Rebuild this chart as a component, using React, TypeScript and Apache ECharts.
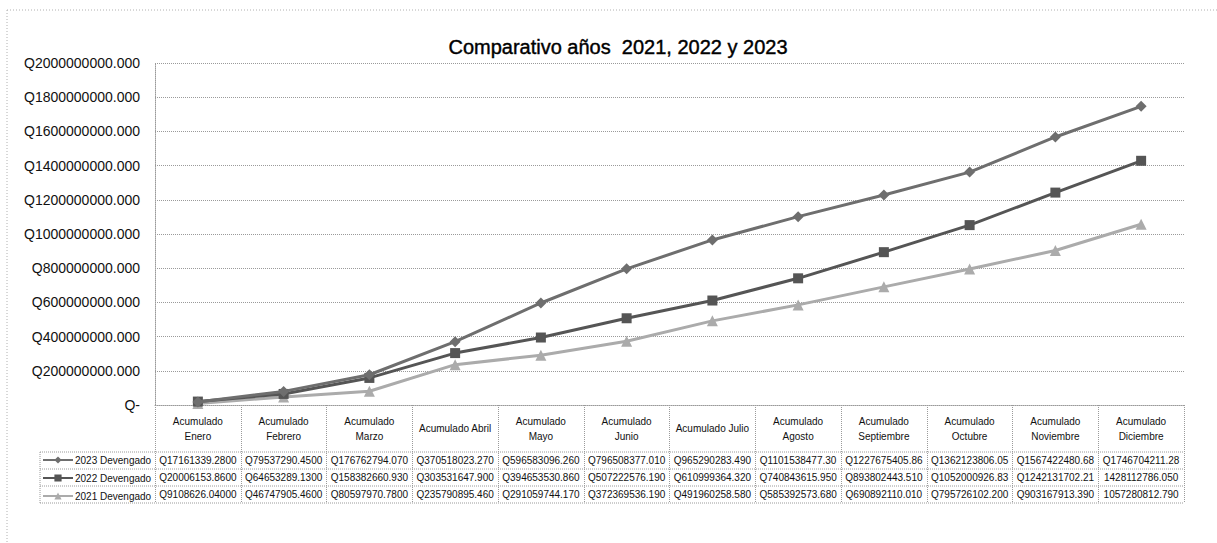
import React, { useEffect, useRef } from "react";
import * as echarts from "echarts";

const titleText = "Comparativo años  2021, 2022 y 2023";

const categories = [
  "Acumulado\nEnero",
  "Acumulado\nFebrero",
  "Acumulado\nMarzo",
  "Acumulado Abril",
  "Acumulado\nMayo",
  "Acumulado\nJunio",
  "Acumulado Julio",
  "Acumulado\nAgosto",
  "Acumulado\nSeptiembre",
  "Acumulado\nOctubre",
  "Acumulado\nNoviembre",
  "Acumulado\nDiciembre",
];

const seriesNames = ["2023 Devengado", "2022 Devengado", "2021 Devengado"];

const values2023 = [
  17161339.28, 79537290.45, 176762794.07, 370518023.27, 596583096.26, 796508377.01,
  965290283.49, 1101538477.3, 1227675405.86, 1362123806.05, 1567422480.68, 1746704211.28,
];
const values2022 = [
  20006153.86, 64653289.13, 158382660.93, 303531647.9, 394653530.86, 507222576.19,
  610999364.32, 740843615.95, 893802443.51, 1052000926.83, 1242131702.21, 1428112786.05,
];
const values2021 = [
  9108626.04, 46747905.46, 80597970.78, 235790895.46, 291059744.17, 372369536.19,
  491960258.58, 585392573.68, 690892110.01, 795726102.2, 903167913.39, 1057280812.79,
];

const labels2023 = [
  "Q17161339.2800", "Q79537290.4500", "Q176762794.070", "Q370518023.270",
  "Q596583096.260", "Q796508377.010", "Q965290283.490", "Q1101538477.30",
  "Q1227675405.86", "Q1362123806.05", "Q1567422480.68", "Q1746704211.28",
];
const labels2022 = [
  "Q20006153.8600", "Q64653289.1300", "Q158382660.930", "Q303531647.900",
  "Q394653530.860", "Q507222576.190", "Q610999364.320", "Q740843615.950",
  "Q893802443.510", "Q1052000926.83", "Q1242131702.21", "1428112786.050",
];
const labels2021 = [
  "Q9108626.04000", "Q46747905.4600", "Q80597970.7800", "Q235790895.460",
  "Q291059744.170", "Q372369536.190", "Q491960258.580", "Q585392573.680",
  "Q690892110.010", "Q795726102.200", "Q903167913.390", "1057280812.790",
];

const yMin = 0;
const yMax = 2000000000;
const yInterval = 200000000;

const FONT = "'Liberation Sans', Arial, sans-serif";
const GRID_COLOR = "#9a9a9a";
const TEXT_COLOR = "#111111";
const colors = ["#6e6e6e", "#555555", "#ababab"];
const symbols = ["diamond", "rect", "triangle"];

export default function App() {
  const ref = useRef<HTMLDivElement>(null);

  useEffect(() => {
    if (!ref.current) return;
    const chart = echarts.init(ref.current, null, { renderer: "svg" });
    const W = 1217;
    const gridLeft = 155;
    const gridRight = 33;
    const gridTop = 63;
    const gridBottom = 138;
    const axisY = 543 - gridBottom;
    const headerH = 47;
    const rowH = 17;
    const tableLeft = 40;
    const tableRight = W - gridRight;

    const dataSets = [values2023, values2022, values2021];
    const tableLabels = [labels2023, labels2022, labels2021];

    chart.setOption({
      animation: false,
      backgroundColor: "#ffffff",
      grid: { left: gridLeft, right: gridRight, top: gridTop, bottom: gridBottom, containLabel: false },
      legend: {
        orient: "vertical",
        left: 42,
        top: axisY + headerH + 3,
        itemWidth: 30,
        itemHeight: 9,
        itemGap: 8,
        padding: 0,
        data: seriesNames,
        textStyle: { fontFamily: FONT, fontSize: 10, color: TEXT_COLOR, lineHeight: 9, padding: [0, 0, 0, -3] },
      },
      xAxis: {
        type: "category",
        data: categories,
        boundaryGap: true,
        axisLine: { show: true, lineStyle: { color: GRID_COLOR, type: "dotted", width: 1 } },
        axisTick: { show: true, length: headerH + rowH * 3, lineStyle: { color: GRID_COLOR, type: "dotted", width: 1 } },
        axisLabel: {
          fontFamily: FONT,
          fontSize: 10,
          color: TEXT_COLOR,
          lineHeight: 15,
          margin: headerH / 2,
          verticalAlign: "middle",
          align: "center",
          interval: 0,
        },
        splitLine: { show: false },
      },
      yAxis: {
        type: "value",
        min: yMin,
        max: yMax,
        interval: yInterval,
        axisLine: { show: true, lineStyle: { color: GRID_COLOR, type: "dotted", width: 1 } },
        axisTick: { show: false },
        splitLine: { show: true, lineStyle: { color: GRID_COLOR, type: "dotted", width: 1 } },
        axisLabel: {
          fontFamily: FONT,
          fontSize: 14,
          color: TEXT_COLOR,
          margin: 15,
          formatter: (v: number) => (v === 0 ? "Q-" : "Q" + v.toFixed(3)),
        },
      },
      series: seriesNames.map((name, i) => ({
        name,
        type: "line",
        data: dataSets[i],
        symbol: symbols[i],
        symbolSize: i === 1 ? 10 : 11,
        showSymbol: true,
        lineStyle: { color: colors[i], width: 3 },
        itemStyle: { color: colors[i] },
        z: 3 - i,
      })),
    });

    const centers = categories.map((_, i) => chart.convertToPixel({ xAxisIndex: 0 }, i) as number);

    const graphics: any[] = [];
    graphics.push({
      type: "text",
      x: 618,
      y: 47,
      style: {
        text: titleText,
        fontFamily: FONT,
        fontSize: 20,
        fill: "#000",
        stroke: "#000",
        lineWidth: 0.4,
        textAlign: "center",
        textVerticalAlign: "middle",
      },
    });
    // outer border
    graphics.push({
      type: "line",
      shape: { x1: 7, y1: 10, x2: W, y2: 10 },
      style: { stroke: "#b0b0b0", lineWidth: 1, lineDash: [1, 2] },
    });
    graphics.push({
      type: "line",
      shape: { x1: 7, y1: 10, x2: 7, y2: 543 },
      style: { stroke: "#b0b0b0", lineWidth: 1, lineDash: [1, 2] },
    });
    // table horizontal lines
    for (let r = 0; r <= 3; r++) {
      const y = axisY + headerH + r * rowH;
      graphics.push({
        type: "line",
        shape: { x1: tableLeft, y1: y, x2: tableRight, y2: y },
        style: { stroke: GRID_COLOR, lineWidth: 1, lineDash: [1, 1] },
      });
    }
    graphics.push({
      type: "line",
      shape: { x1: tableLeft, y1: axisY + headerH, x2: tableLeft, y2: axisY + headerH + rowH * 3 },
      style: { stroke: GRID_COLOR, lineWidth: 1, lineDash: [1, 1] },
    });
    // table values
    tableLabels.forEach((row, r) => {
      row.forEach((txt, c) => {
        graphics.push({
          type: "text",
          x: centers[c],
          y: axisY + headerH + r * rowH + rowH / 2,
          style: {
            text: txt,
            fontFamily: FONT,
            fontSize: 10,
            fill: TEXT_COLOR,
            textAlign: "center",
            textVerticalAlign: "middle",
          },
        });
      });
    });

    chart.setOption({ graphic: graphics });

    return () => chart.dispose();
  }, []);

  return (
    <div
      ref={ref}
      style={{ position: "fixed", left: 0, top: 0, width: 1217, height: 543, background: "#fff" }}
    />
  );
}
